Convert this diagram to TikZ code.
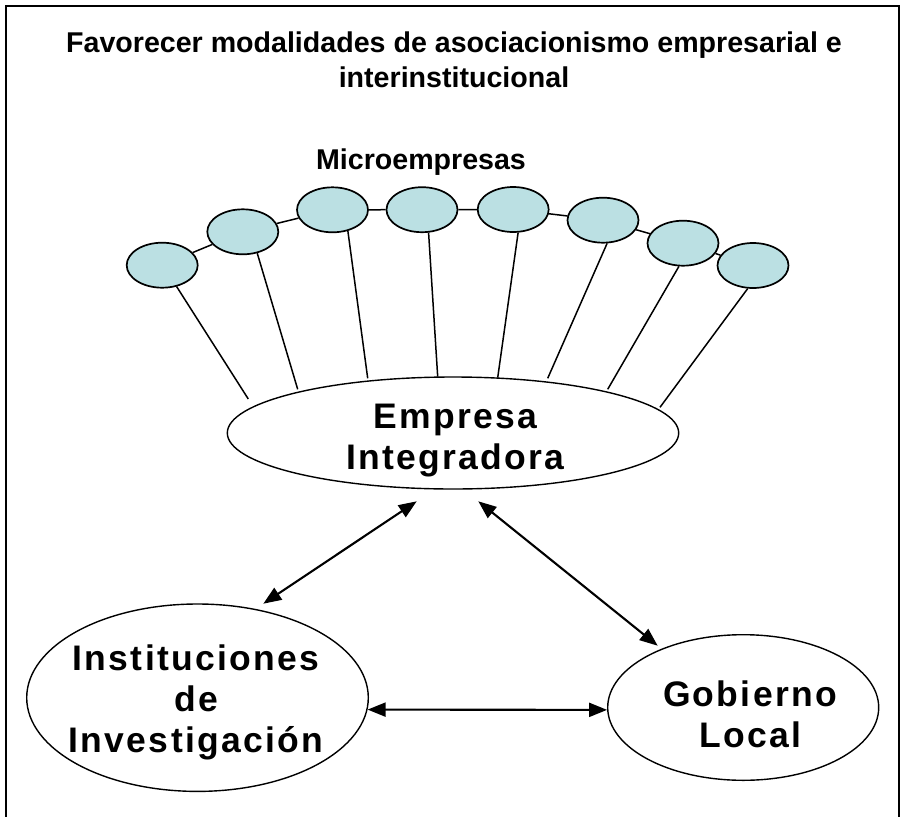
\documentclass[tikz,border=0pt]{standalone}
\usepackage{fontspec}
\setmainfont{Liberation Sans}
\newfontfamily\spacedfont[LetterSpace=6.5]{Liberation Sans}
\usetikzlibrary{arrows.meta,shapes.geometric}
\definecolor{microfill}{RGB}{187,224,227}
\tikzset{
  titletext/.style={inner sep=0pt, align=center, font=\fontsize{28.6}{35}\selectfont\bfseries},
  bigtext/.style={inner sep=0pt, align=center, anchor=north, font=\spacedfont\fontsize{35.5}{41}\selectfont\bfseries},
  microell/.style={ellipse, draw, fill=microfill, line width=1.7pt, minimum width=71pt, minimum height=45pt, inner sep=0pt},
  bigell/.style={ellipse, draw, line width=1.4pt, inner sep=0pt},
  thinline/.style={line width=1.5pt},
  dblarrow/.style={line width=2.1pt, {Triangle[length=18pt,width=14pt]}-{Triangle[length=18pt,width=14pt]}},
}
\begin{document}
\begin{tikzpicture}[x=1pt,y=-1pt]
\useasboundingbox (0,0) rectangle (903,817);
\fill[white] (0,0) rectangle (903,817);
% frame
\draw[line width=2pt] (6,830) -- (6,6) -- (899.3,6) -- (899.3,830);
% titles
\node[titletext, anchor=north] (title) at (454,31.7) {Favorecer modalidades de asociacionismo empresarial e\\interinstitucional};
\node[titletext, anchor=north] (micro) at (421,148.3) {Microempresas};
% microempresas
\node[microell] (m1) at (162.2,265.2) {};
\node[microell] (m2) at (242.8,231.8) {};
\node[microell] (m3) at (332.5,209.8) {};
\node[microell] (m4) at (422,209.7) {};
\node[microell] (m5) at (513.2,209.5) {};
\node[microell] (m6) at (603,220.2) {};
\node[microell] (m7) at (683,243.2) {};
\node[microell] (m8) at (753,265.5) {};
\foreach \a/\b in {m1/m2,m2/m3,m3/m4,m4/m5,m5/m6,m6/m7,m7/m8}
  \draw[thinline] (\a) -- (\b);
% big ellipses
\node[bigell, minimum width=451.4pt, minimum height=112pt] (E) at (453,433) {};
\node[bigtext] (Etext) at (455.5,403.5) {Empresa\\Integradora};
\node[bigtext] (Itext) at (196,644.5) {Instituciones\\de\\Investigación};
\node[bigell, minimum width=341.6pt, minimum height=187.4pt] (I) at (197.5,697.7) {};
\node[bigell, minimum width=271pt, minimum height=145.6pt] (G) at (743.2,707.5) {};
\node[bigtext] (Gtext) at (750,681) {Gobierno\\Local};
% spokes
\coordinate (e1) at (248.3,399);
\coordinate (e2) at (297.7,389.3);
\coordinate (e3) at (367.7,378.3);
\coordinate (e4) at (437.7,376.7);
\coordinate (e5) at (497.7,377.7);
\coordinate (e6) at (547.7,378.3);
\coordinate (e7) at (607.7,389.3);
\coordinate (e8) at (660,407.3);
\draw[thinline] (m1.-56.7) -- (e1);
\draw[thinline] (m2.-56.5) -- (e2);
\draw[thinline] (m3.-54.9) -- (e3);
\draw[thinline] (m4.-74.4) -- (e4);
\draw[thinline] (m5.-78.5) -- (e5);
\draw[thinline] (m6.-80.9) -- (e6);
\draw[thinline] (m7.-100.8) -- (e7);
\draw[thinline] (m8.-103.1) -- (e8);
% arrows
\coordinate (a1) at (416.7,501.3);
\coordinate (b1) at (263.3,603.7);
\coordinate (a2) at (478.3,501.3);
\coordinate (b2) at (657.7,645.7);
\draw[dblarrow] (a1) -- (b1);
\draw[dblarrow] (a2) -- (b2);
\draw[dblarrow] (I.-4.84) -- (G.181.9);
\end{tikzpicture}
\end{document}
